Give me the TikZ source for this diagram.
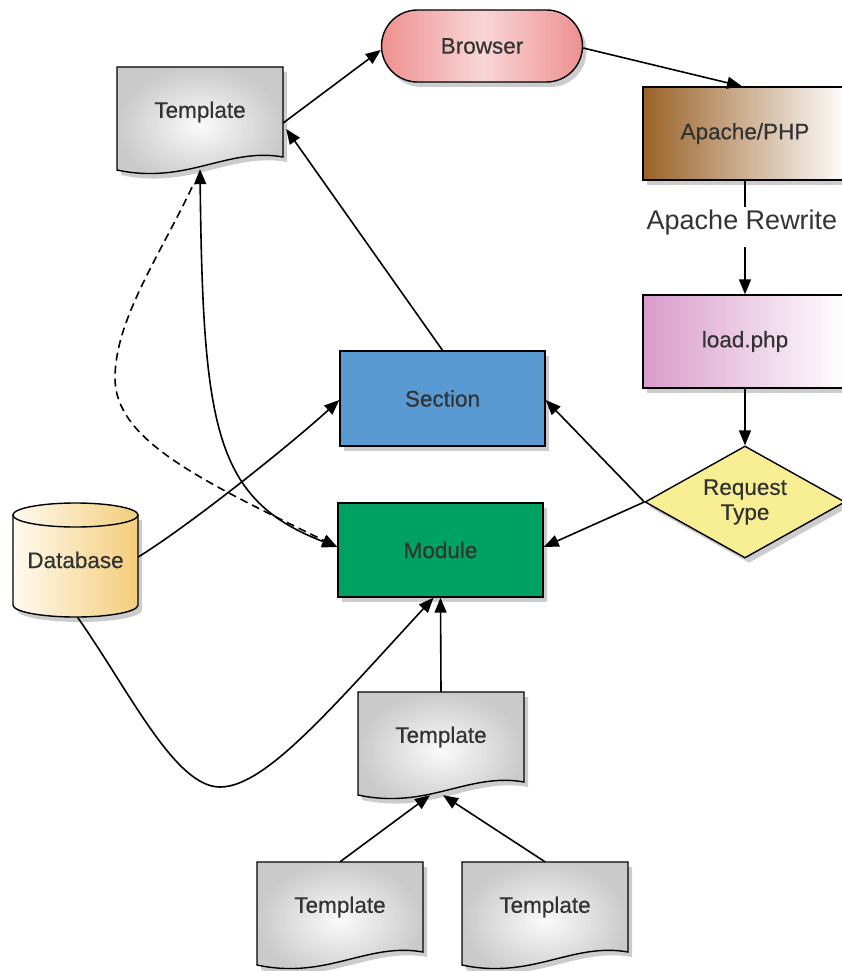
\documentclass[tikz,border=0pt]{standalone}
\usepackage{fontspec}
\setmainfont{Liberation Sans}
\newfontfamily\lblfont[FakeBold=0.5]{Liberation Sans}
\usetikzlibrary{arrows.meta,shapes.geometric,shadows,calc}
\definecolor{txt}{HTML}{333333}
\definecolor{tplgray}{HTML}{CACACA}
\definecolor{tplin}{HTML}{FAFAFA}
\definecolor{brEdge}{HTML}{EE9090}
\definecolor{brMid}{HTML}{F9D6D6}
\definecolor{apL}{HTML}{9A6228}
\definecolor{ldL}{HTML}{D89CCB}
\definecolor{secC}{HTML}{5A9AD2}
\definecolor{modC}{HTML}{00A263}
\definecolor{diaC}{HTML}{F8EE94}
\definecolor{dbL}{HTML}{FFFAF0}
\definecolor{dbR}{HTML}{F3CD7A}
\newcommand\tpl[3]{%
  \path[tplshape] (#2,#3) -- (#2+166,#3) -- (#2+166,#3+90)
     .. controls (#2+110,#3+80) and (#2+70,#3+118) .. (#2,#3+103) -- cycle;
  \node[tpllabel] (#1) at (#2+83,#3+45) {Template};
}
\begin{document}
\begin{tikzpicture}[x=1pt,y=-1pt,
  every node/.style={text=txt, font=\lblfont\fontsize{22.5}{25}\selectfont},
  >={Triangle[length=15pt,width=12pt]},
  conn/.style={line width=1.6pt, ->},
  shad/.style={drop shadow={shadow xshift=4pt,shadow yshift=-5pt,opacity=0.2,fill=black}},
  boxbase/.style={rectangle, draw=black, line width=1.4pt, minimum width=205pt, minimum height=94pt, inner sep=0pt, shad},
  tplshape/.style={draw=black, line width=1.4pt, inner color=tplin, outer color=tplgray, shad},
  tpllabel/.style={rectangle, minimum width=166pt, minimum height=90pt, inner sep=0pt},
]
\useasboundingbox (0,0) rectangle (842,971);

% templates
\tpl{t1}{117}{67}
\tpl{t2}{358}{692}
\tpl{t3}{257}{862}
\tpl{t4}{462}{862}

% browser
\node[boxbase, rounded corners=36pt, minimum width=201pt, minimum height=72pt,
      left color=brEdge, right color=brEdge, middle color=brMid] (br) at (482,46) {Browser};

% apache & load
\node[boxbase, minimum width=204pt, minimum height=93pt, left color=apL, right color=white] (ap) at (745,133.5) {Apache/PHP};
\node[boxbase, minimum width=204pt, minimum height=93pt, left color=ldL, right color=white] (ld) at (745,341.5) {load.php};

% section & module
\node[boxbase, fill=secC, minimum height=95pt] (sec) at (442.5,398.5) {Section};
\node[boxbase, fill=modC] (mod) at (440.5,550) {Module};

% decision
\node[diamond, draw=black, line width=1.4pt, fill=diaC, minimum width=200pt, minimum height=112pt,
      inner sep=0pt, shad] (dia) at (745,502) {};
\node[align=center, inner sep=0pt] (diatext) at (dia.center) {Request\\Type};

% database
\path[draw=black, line width=1.4pt, left color=dbL, right color=dbR, shad]
  (13,515) -- (13,605) arc[start angle=180, end angle=0, x radius=62.5, y radius=12] -- (138,515) -- cycle;
\path[draw=black, line width=1.4pt, left color=dbL, right color=dbR]
  (75.5,515) ellipse [x radius=62.5, y radius=12];
\node[rectangle, minimum width=125pt, minimum height=114pt, inner sep=0pt] (db) at (75.5,560) {Database};

% rewrite label
\node[font=\fontsize{27}{30}\selectfont, inner sep=0pt] (rw) at (742,222.5) {Apache Rewrite};

% connectors
\draw[line width=1.6pt] (ap.south) -- ([yshift=3pt]ap.south |- rw.north);
\draw[conn] ([yshift=-12pt]ap.south |- rw.south) -- (ld.north);
\draw[conn] ([yshift=-11pt]t1.east) -- ([yshift=-4pt]br.west);
\draw[conn] (sec.north) -- ([xshift=3pt,yshift=-17pt]t1.east);
\draw[conn] ([yshift=-2pt]br.east) -- ([xshift=-3pt]ap.north);
\draw[conn] (ld.south) -- (dia.north);
\draw[conn] (dia.west) -- ([yshift=-1.5pt]sec.east);
\draw[conn] (dia.west) -- ([yshift=3pt]mod.east);
\draw[conn] (t2.north) -- (mod.south);
\draw[conn] (t3.north) -- ($(t2.south)+(-11,13)$);
\draw[conn] (t4.north) -- ($(t2.south)+(2,13)$);
\draw[conn, <->] ($(t1.south)+(0,12)$) .. controls (203,430) and (215,500) .. ([yshift=3pt]mod.west);
\draw[conn, dash pattern=on 8pt off 5pt] ($(t1.south)+(-8,30)$) .. controls (160,255) and (115,320) .. (115,378)
   .. controls (115,440) and (200,480) .. ([yshift=3pt]mod.west);
\draw[conn] ([yshift=3pt]db.east) .. controls (190,525) and (290,445) .. ([yshift=-1.5pt]sec.west);
\draw[conn] ([xshift=2pt]db.south) .. controls (130,692) and (175,787) .. (220,787)
   .. controls (265,787) and (330,710) .. ([xshift=-7pt]mod.south);
\end{tikzpicture}
\end{document}
